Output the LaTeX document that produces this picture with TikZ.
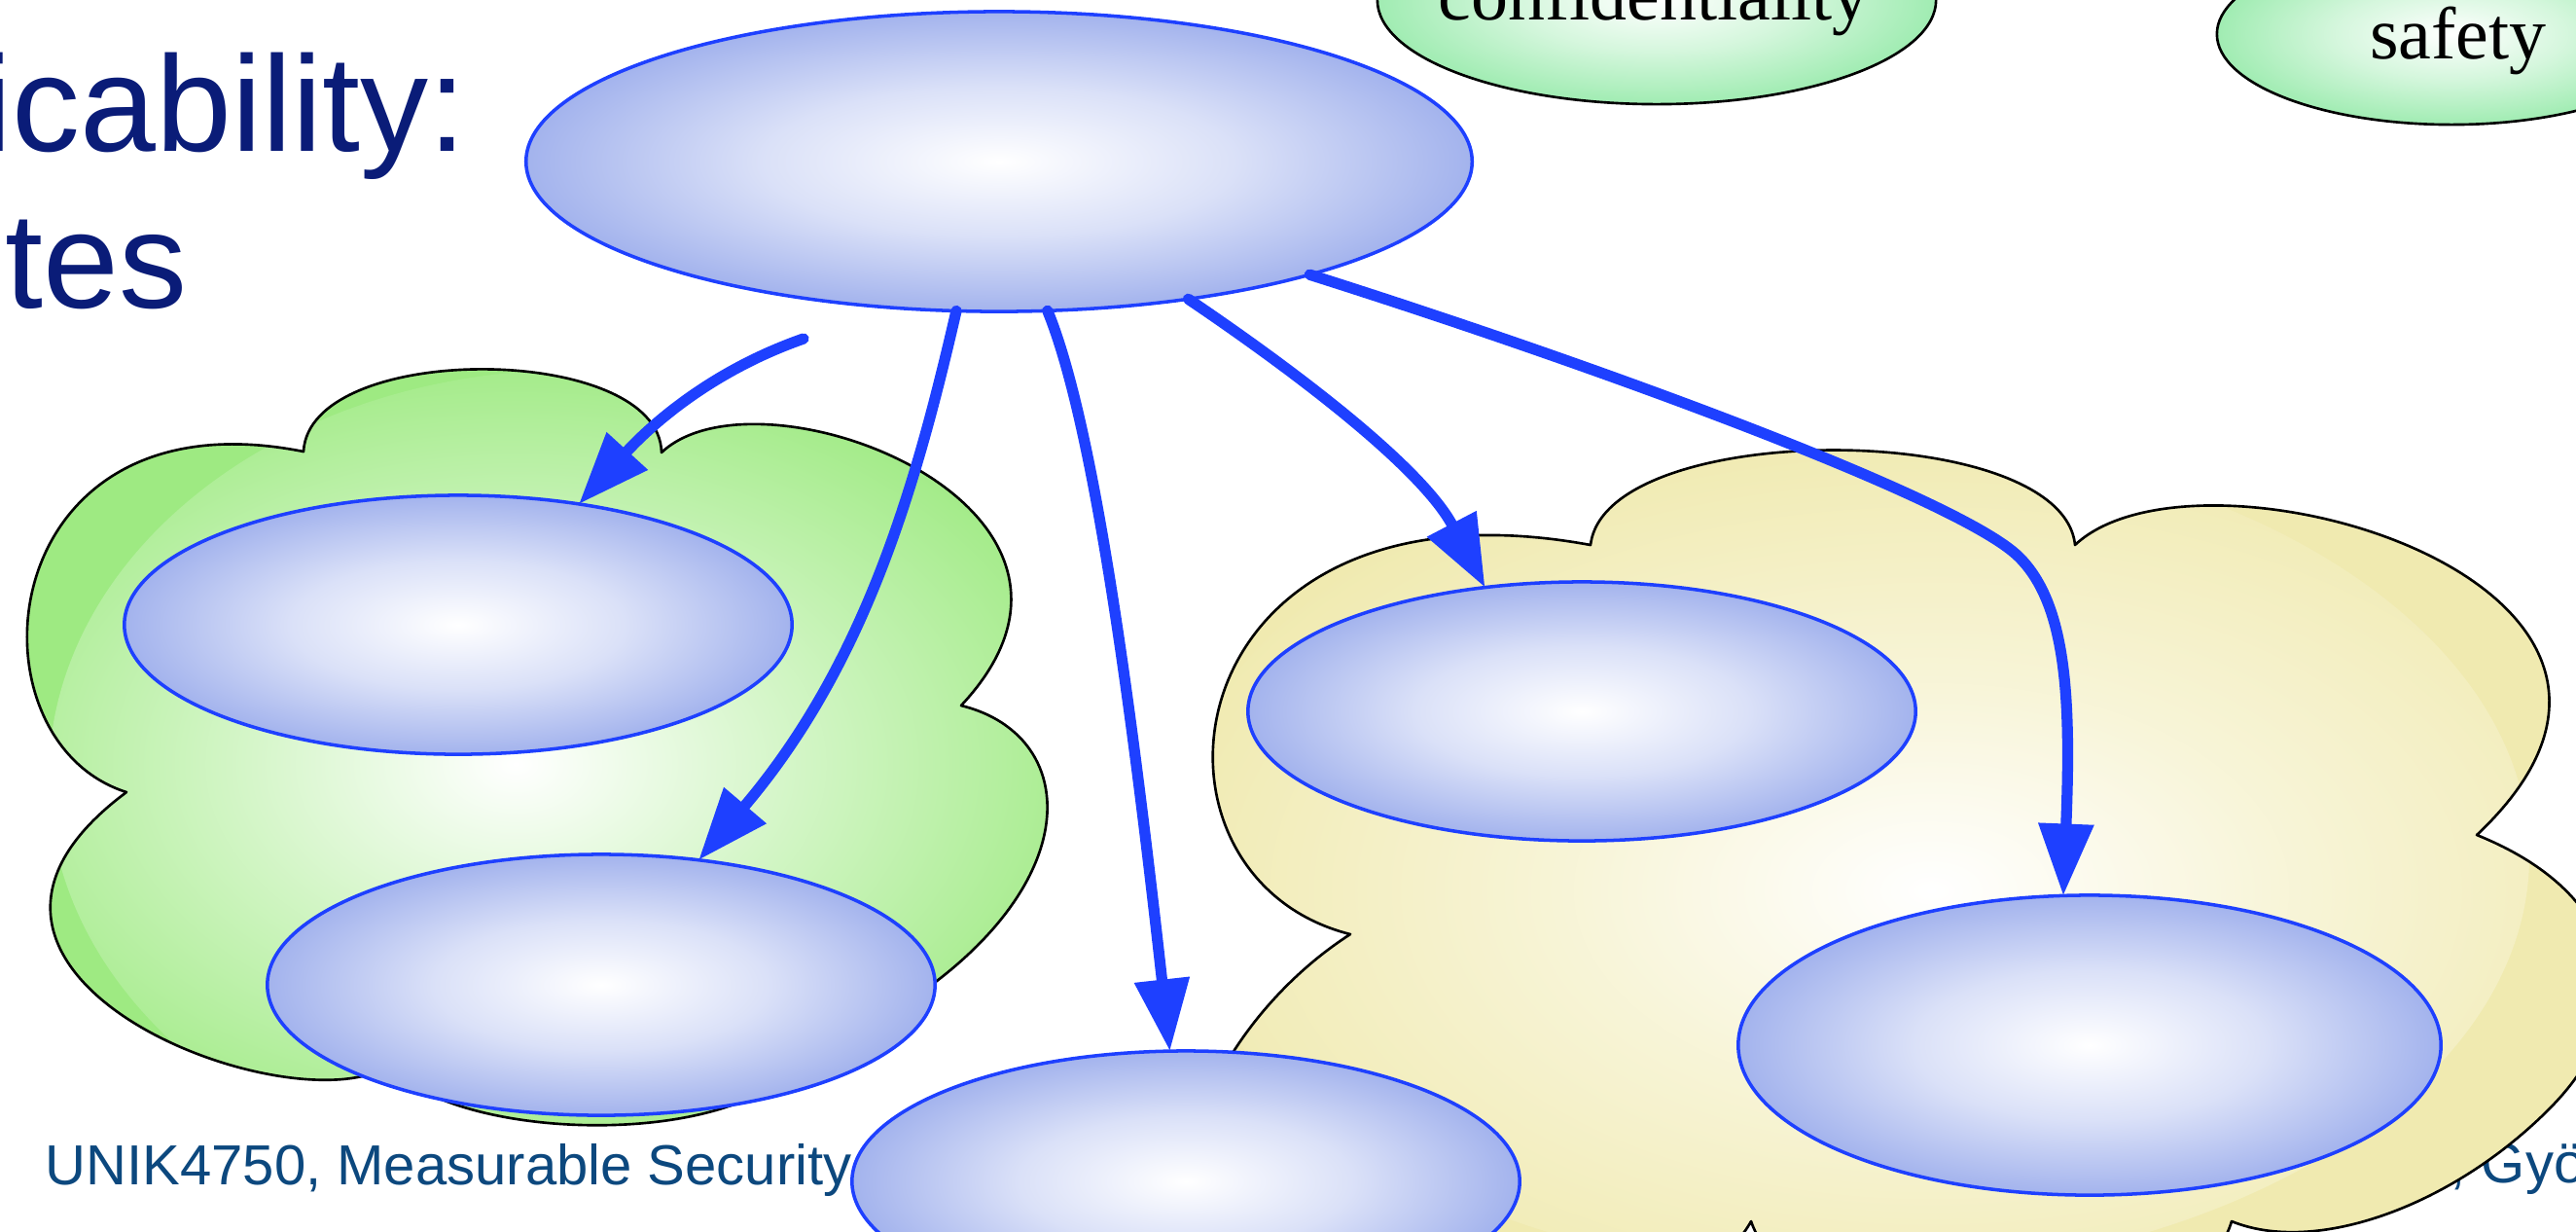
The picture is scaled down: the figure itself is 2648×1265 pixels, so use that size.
\documentclass[tikz,border=0pt]{standalone}
\usepackage{fontspec}
\setmainfont{Liberation Serif}
\newfontfamily\headfont{Liberation Sans}
\usetikzlibrary{shapes.geometric,arrows.meta}

\definecolor{strokeblue}{RGB}{30,64,255}
\definecolor{bubbleedge}{RGB}{163,179,237}
\colorlet{bubblemid}{bubbleedge!40!white}
\definecolor{leafedge}{RGB}{158,234,130}
\colorlet{leafmid}{leafedge!45!white}
\definecolor{sandedge}{RGB}{240,234,176}
\colorlet{sandmid}{sandedge!50!white}
\definecolor{mintedge}{RGB}{160,236,178}
\colorlet{mintmid}{mintedge!45!white}
\definecolor{titlenavy}{RGB}{10,28,120}
\definecolor{footblue}{RGB}{12,72,126}

% radial glows: white centre, full colour at the rim of the shaded box (25bp)
\pgfdeclareradialshading{blueglow}{\pgfpoint{0bp}{0bp}}{color(0bp)=(white); color(12.5bp)=(bubblemid); color(25bp)=(bubbleedge); color(50bp)=(bubbleedge)}
\pgfdeclareradialshading{mintglow}{\pgfpoint{0bp}{0bp}}{color(0bp)=(white); color(12.5bp)=(mintmid); color(25bp)=(mintedge); color(50bp)=(mintedge)}
\pgfdeclareradialshading{leafglow}{\pgfpoint{0bp}{0bp}}{color(0bp)=(white); color(11bp)=(leafmid); color(25bp)=(leafedge); color(50bp)=(leafedge)}
\pgfdeclareradialshading{sandglow}{\pgfpoint{0bp}{0bp}}{color(0bp)=(white); color(11bp)=(sandmid); color(25bp)=(sandedge); color(50bp)=(sandedge)}

\tikzset{
  bubble/.style={ellipse, draw=strokeblue, line width=1pt, shade, shading=blueglow,
                 inner sep=0pt, outer sep=0pt},
  tag/.style={ellipse, draw=black, line width=0.75pt, shade, shading=mintglow,
              inner sep=0pt, outer sep=0pt},
  tagtext/.style={anchor=base, inner sep=0pt, font=\fontsize{21.6pt}{24pt}\selectfont},
  headline/.style={anchor=base west, inner sep=0pt, text=titlenavy,
                   font=\headfont\fontsize{39.8pt}{46pt}\selectfont},
  footline/.style={anchor=base west, inner sep=0pt, text=footblue,
                   font=\headfont\fontsize{16.5pt}{20pt}\selectfont},
  cloudline/.style={draw=black, line width=0.75pt, line join=round},
  flow/.style={draw=strokeblue, line width=3.2pt, line cap=round,
               -{Triangle[length=21pt,width=15.5pt]}}
}

\begin{document}
\begin{tikzpicture}[x=0.01cm, y=-0.01cm]
\useasboundingbox (0,0) rectangle (2648,1265);

% heading and footer lines
\node[headline] (head1) at (-19,155) {icability:};
\node[headline] (head2) at (5,316) {tes};
\node[footline] (footl) at (46,1217) {UNIK4750, Measurable Security};
\node[footline] (footr) at (2518,1215) {, Gyö};

% attribute tags along the top edge
\node[tag, minimum width=5.74cm, minimum height=2.14cm] (conf) at (1703,0) {};
\node[tagtext] (conftext) at (1700,20) {confidentiality};
\node[tag, minimum width=4.82cm, minimum height=1.86cm] (safe) at (2520,35) {};
\node[tagtext] (safetext) at (2527,60) {safety};

% green cloud on the left
\path[cloudline, fill=leafedge,
      path picture={\shade[shading=leafglow] (590,800) ellipse (540 and 420);}]
  (312,464) .. controls (318,350) and (678,352) .. (680,465)
  .. controls (780,370) and (1180,520) .. (988,725)
  .. controls (1130,760) and (1120,960) .. (820,1090)
  .. controls (760,1180) and (470,1175) .. (400,1095)
  .. controls (300,1160) and (-120,1000) .. (130,814)
  .. controls (-40,760) and (-10,400) .. (312,464) -- cycle;

% yellow cloud on the right
\path[cloudline, fill=sandedge,
      path picture={\shade[shading=sandglow] (1900,880) ellipse (700 and 430);}]
  (1388,960) .. controls (1150,900) and (1200,480) .. (1635,560)
  .. controls (1650,430) and (2120,430) .. (2133,560)
  .. controls (2260,440) and (2820,600) .. (2546,858)
  .. controls (2700,920) and (2720,1040) .. (2620,1140)
  .. controls (2520,1240) and (2380,1290) .. (2294,1255)
  .. controls (2250,1400) and (1850,1400) .. (1800,1255)
  .. controls (1720,1400) and (1300,1330) .. (1230,1170)
  .. controls (1240,1110) and (1298,1018) .. (1388,960) -- cycle;

% blue bubbles
\node[bubble, minimum width=9.72cm, minimum height=3.08cm] (top) at (1027,166) {};
\node[bubble, minimum width=6.86cm, minimum height=2.66cm] (l1) at (471,642) {};
\node[bubble, minimum width=6.86cm, minimum height=2.68cm] (l2) at (618,1012) {};
\node[bubble, minimum width=6.86cm, minimum height=2.68cm] (mid) at (1219,1214) {};
\node[bubble, minimum width=6.86cm, minimum height=2.66cm] (y1) at (1626,731) {};
\node[bubble, minimum width=7.22cm, minimum height=3.08cm] (y2) at (2148,1074) {};

% connectors
\coordinate (a5start) at (826,348);
\coordinate (a4bend) at (2075,572);
\draw[flow] (a5start) .. controls +(-106,37) and +(63,-69) .. (l1.45);
\draw[flow] (top.-106.6) .. controls +(-42,182) and +(171,-201) .. (l2.52);
\draw[flow] (top.-72.7) .. controls +(46,112) and +(-42,-377) .. (mid.97);
\draw[flow] (top.-36.7) .. controls +(114,77) and +(-64,-122) .. (y1.128);
\draw[flow] (top.-20.7) .. controls +(300,95) and +(-60,-59) .. (a4bend)
  .. controls +(50,49) and +(8,-200) .. (y2.100);
\end{tikzpicture}
\end{document}
